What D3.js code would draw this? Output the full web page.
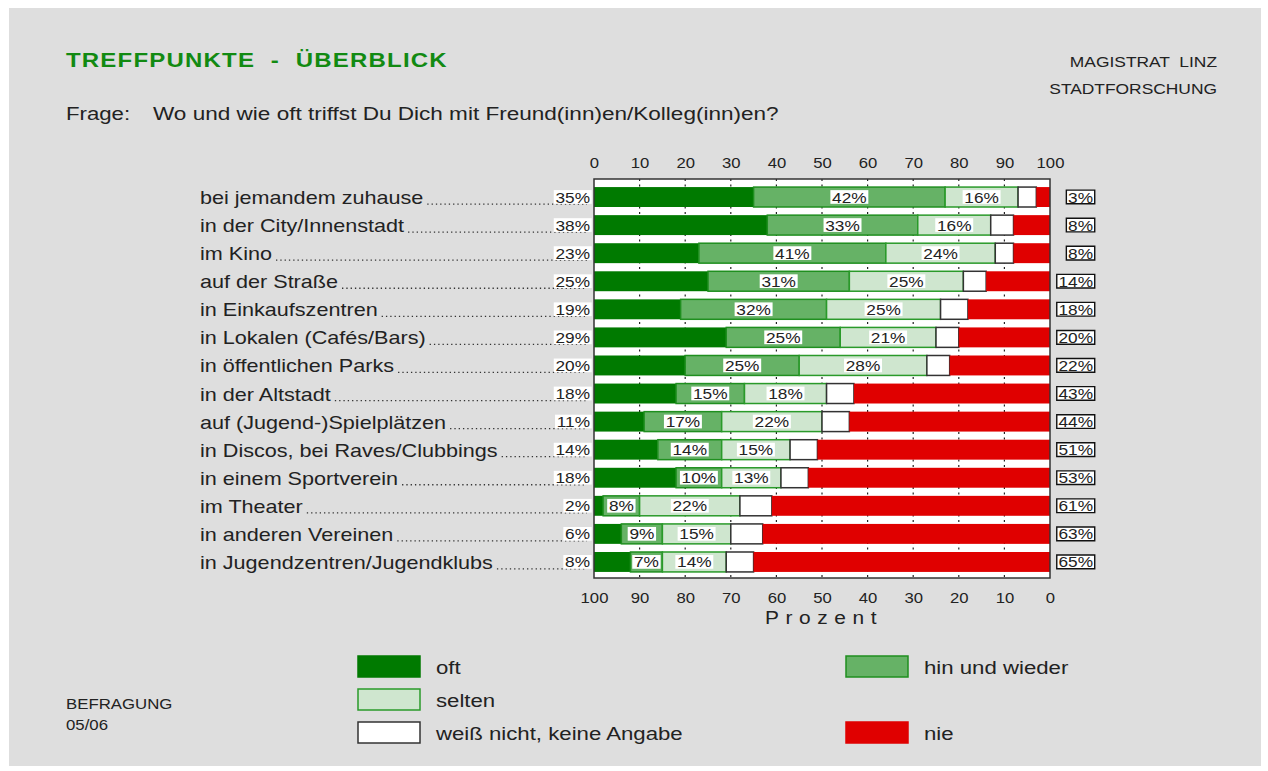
<!DOCTYPE html>
<html>
<head>
<meta charset="utf-8">
<script src="https://cdn.jsdelivr.net/npm/d3@7"></script>
<style>
  body { margin: 0; background: #fff; }
  svg { display: block; font-family: "Liberation Sans", Arial, sans-serif; }
</style>
</head>
<body>
<svg width="1268" height="771"></svg>
<script>
const categories = [
  "bei jemandem zuhause", "in der City/Innenstadt", "im Kino", "auf der Straße",
  "in Einkaufszentren", "in Lokalen (Cafés/Bars)", "in öffentlichen Parks",
  "in der Altstadt", "auf (Jugend-)Spielplätzen", "in Discos, bei Raves/Clubbings",
  "in einem Sportverein", "im Theater", "in anderen Vereinen", "in Jugendzentren/Jugendklubs"
];
const oft     = [35, 38, 23, 25, 19, 29, 20, 18, 11, 14, 18, 2, 6, 8];
const hin     = [42, 33, 41, 31, 32, 25, 25, 15, 17, 14, 10, 8, 9, 7];
const selten  = [16, 16, 24, 25, 25, 21, 28, 18, 22, 15, 13, 22, 15, 14];
const weissNicht = [4, 5, 4, 5, 6, 5, 5, 6, 6, 6, 6, 7, 7, 6];
const nie     = [3, 8, 8, 14, 18, 20, 22, 43, 44, 51, 53, 61, 63, 65];
const ticks   = [0, 10, 20, 30, 40, 50, 60, 70, 80, 90, 100];

const svg = d3.select("svg");
const SX = 1.2; // the original is drawn a bit wide

// text stretched horizontally, anchored at (x, y)
function wideText(parent, x, y, txt, size, anchor = "start", sx = SX) {
  const g = parent.append("g").attr("transform", `translate(${x},${y}) scale(${sx},1)`);
  g.append("text").attr("text-anchor", anchor).attr("font-size", size)
    .attr("fill", "#222").style("white-space", "pre").text(txt);
  return g;
}

svg.append("rect").attr("x", 9).attr("y", 8).attr("width", 1252).attr("height", 758)
  .attr("fill", "#dedede");

// header
wideText(svg, 66, 67, "TREFFPUNKTE  -  ÜBERBLICK", 20).select("text")
  .attr("font-weight", "bold").attr("letter-spacing", 1).attr("fill", "#128a12");
wideText(svg, 1217, 67, "MAGISTRAT  LINZ", 14.5, "end");
wideText(svg, 1217, 94, "STADTFORSCHUNG", 14.5, "end");
wideText(svg, 66, 120, "Frage:", 18.5);
wideText(svg, 153, 120, "Wo und wie oft triffst Du Dich mit Freund(inn)en/Kolleg(inn)en?", 18.8);

const x = d3.scaleLinear().domain([0, 100]).range([594, 1050]);
const y = d3.scaleBand().domain(categories).range([183, 576]).paddingInner(0.29).paddingOuter(0.145);
const plotTop = 179, plotBottom = 578;

svg.append("rect").attr("x", x(0)).attr("y", plotTop)
  .attr("width", x(100) - x(0)).attr("height", plotBottom - plotTop).attr("fill", "#fff");

// dotted grid
svg.append("g").selectAll("line").data(ticks.slice(1, -1)).join("line")
  .attr("x1", d => x(d)).attr("x2", d => x(d))
  .attr("y1", plotTop).attr("y2", plotBottom)
  .attr("stroke", "#222").attr("stroke-width", 1.2).attr("stroke-dasharray", "2,3.5");

// axes (labels only, stretched like the rest)
const topAxis = svg.append("g").attr("transform", `translate(0,${plotTop})`)
  .call(d3.axisTop(x).tickValues(ticks).tickSize(0).tickFormat(""));
const botAxis = svg.append("g").attr("transform", `translate(0,${plotBottom})`)
  .call(d3.axisBottom(x).tickValues(ticks).tickSize(0).tickFormat(""));
topAxis.select(".domain").remove();
botAxis.select(".domain").remove();
topAxis.selectAll(".tick").each(function(d) {
  wideText(d3.select(this), 0, -11, String(d), 14.5, "middle", 1.15);
});
botAxis.selectAll(".tick").each(function(d) {
  wideText(d3.select(this), 0, 25, String(100 - d), 14.5, "middle", 1.15);
});
wideText(svg, 824, 624, "Prozent", 19, "middle", 1.1).select("text").attr("letter-spacing", 6);

// stacked bars
const keys = ["oft", "hin", "selten", "wn", "nie"];
const rows = categories.map((c, i) => ({
  cat: c, oft: oft[i], hin: hin[i], selten: selten[i], wn: weissNicht[i], nie: nie[i]
}));
const series = d3.stack().keys(keys)(rows);
const fill = { oft: "#007a00", hin: "#66b266", selten: "#cfe6cf", wn: "#ffffff", nie: "#e00000" };
const stroke = { oft: "none", hin: "#1f8f1f", selten: "#2a9a2a", wn: "#333", nie: "none" };

const bh = y.bandwidth();
svg.append("g").selectAll("g").data(series).join("g")
  .attr("fill", d => fill[d.key]).attr("stroke", d => stroke[d.key]).attr("stroke-width", 1.5)
  .selectAll("rect").data(d => d).join("rect")
  .attr("x", d => x(d[0])).attr("width", d => x(d[1]) - x(d[0]))
  .attr("y", d => y(d.data.cat)).attr("height", bh);

svg.append("rect").attr("x", x(0)).attr("y", plotTop)
  .attr("width", x(100) - x(0)).attr("height", plotBottom - plotTop)
  .attr("fill", "none").attr("stroke", "#333").attr("stroke-width", 1.5);

// value label with white box
function boxLabel(parent, tx, ty, txt, anchor, border) {
  const g = wideText(parent, tx, ty, txt, 15, anchor, 1.15);
  const b = g.select("text").node().getBBox();
  g.insert("rect", "text").attr("x", b.x - 1.5).attr("y", b.y + 1.5)
    .attr("width", b.width + 3).attr("height", b.height - 3)
    .attr("fill", "#fff").attr("stroke", border ? "#111" : "none")
    .attr("stroke-width", 1.4).attr("vector-effect", "non-scaling-stroke");
}

const labels = svg.append("g");
rows.forEach(r => {
  const cy = y(r.cat) + bh / 2;
  const base = cy + 5.5;
  const g = wideText(labels, 200, cy + 7, r.cat, 18);
  const w = g.select("text").node().getComputedTextLength() * SX;
  labels.append("line").attr("x1", 200 + w + 4).attr("x2", 587)
    .attr("y1", cy + 7).attr("y2", cy + 7)
    .attr("stroke", "#333").attr("stroke-width", 1.3).attr("stroke-dasharray", "1.3,3");

  boxLabel(labels, 590, base, r.oft + "%", "end", false);
  boxLabel(labels, x(r.oft + r.hin / 2), base, r.hin + "%", "middle", false);
  boxLabel(labels, x(r.oft + r.hin + r.selten / 2), base, r.selten + "%", "middle", false);
  boxLabel(labels, 1093, base, r.nie + "%", "end", true);
});

// legend
const legendItems = [
  { key: "oft", label: "oft", x: 358, y: 656 },
  { key: "selten", label: "selten", x: 358, y: 689 },
  { key: "wn", label: "weiß nicht, keine Angabe", x: 358, y: 722 },
  { key: "hin", label: "hin und wieder", x: 846, y: 656 },
  { key: "nie", label: "nie", x: 846, y: 722 }
];
const lg = svg.append("g").selectAll("g").data(legendItems).join("g")
  .attr("transform", d => `translate(${d.x},${d.y})`);
lg.append("rect").attr("width", 62).attr("height", 21)
  .attr("fill", d => fill[d.key])
  .attr("stroke", d => d.key === "oft" ? "#007a00" : d.key === "nie" ? "#e00000" : stroke[d.key])
  .attr("stroke-width", 1.5);
lg.each(function(d) { wideText(d3.select(this), 78, 17.5, d.label, 18.5); });

wideText(svg, 66, 709, "BEFRAGUNG", 14);
wideText(svg, 66, 730, "05/06", 14);
</script>
</body>
</html>
